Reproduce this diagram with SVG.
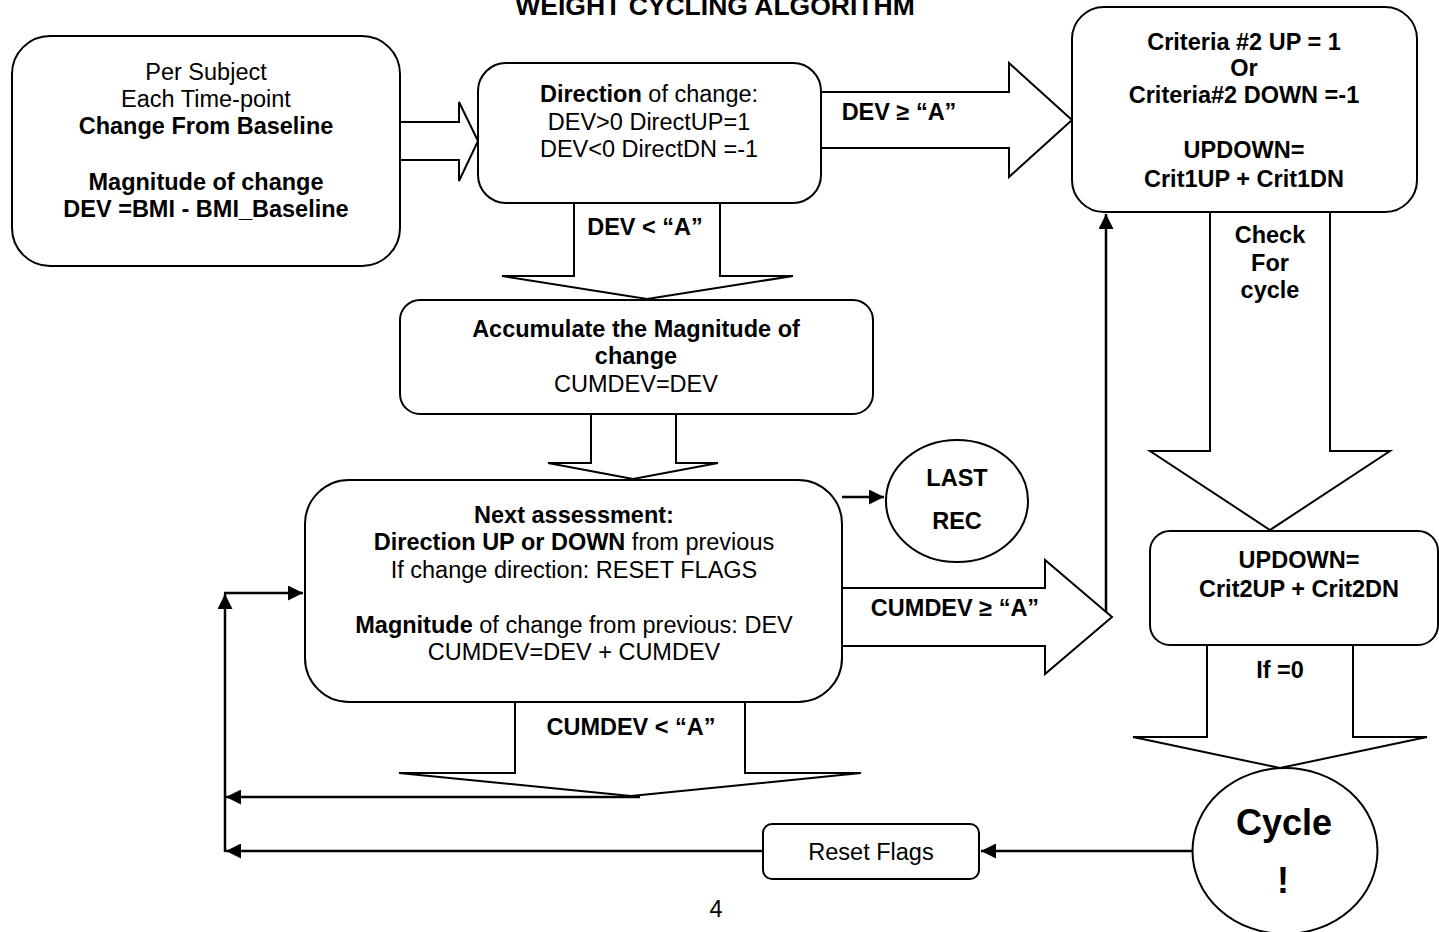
<svg xmlns="http://www.w3.org/2000/svg" width="1439" height="932" viewBox="0 0 1439 932">
<defs>
<style>
text{font-family:"Liberation Sans",Arial,sans-serif;font-size:23.5px;fill:#000;text-anchor:middle}
.b{font-weight:bold}
.title{font-size:26.5px}
.big{font-size:36px}
.box{fill:#fff;stroke:#000;stroke-width:2}
.blk{fill:#fff;stroke:#000;stroke-width:2;stroke-linejoin:miter}
.ln{fill:none;stroke:#000;stroke-width:2.5}
</style>
<marker id="ah" viewBox="0 0 10 10" refX="10" refY="5" markerWidth="6.5" markerHeight="6" markerUnits="strokeWidth" orient="auto">
<path d="M0,0 L10,5 L0,10 z" fill="#000"/>
</marker>
</defs>
<rect width="1439" height="932" fill="#fff"/>
<text class="b title" x="715" y="15">WEIGHT CYCLING ALGORITHM</text>

<g id="block-arrows">
<path class="blk" d="M400,122 H459 V102 L478,141 L459,181 V160 H400"/>
<path class="blk" d="M821,92 H1009 V63 L1072,120 L1009,177 V148 H821"/>
<path class="blk" d="M574,203 V276 H502 L647,299 L793,276 H720 V203"/>
<path class="blk" d="M591,414 V463 H548 L633,479 L718,463 H676 V414"/>
<path class="blk" d="M842,588 H1045 V560 L1112,617 L1045,674 V646 H842"/>
<path class="blk" d="M515,702 V773 H399 L631,796 L861,773 H745 V702"/>
<path class="blk" d="M1210,212 V451 H1150 L1270,530 L1390,451 H1330 V212"/>
<path class="blk" d="M1207,645 V737 H1133 L1280,768 L1427,737 H1353 V645"/>
<text class="b" x="899" y="120">DEV ≥ “A”</text>
<text class="b" x="645" y="235">DEV &lt; “A”</text>
<text class="b" x="955" y="616">CUMDEV ≥ “A”</text>
<text class="b" x="631" y="735">CUMDEV &lt; “A”</text>
<text class="b" x="1270" y="243">Check</text>
<text class="b" x="1270" y="271">For</text>
<text class="b" x="1270" y="298">cycle</text>
<text class="b" x="1280" y="678">If =0</text>
</g>

<g id="connectors">
<line class="ln" x1="842" y1="497" x2="884" y2="497" marker-end="url(#ah)"/>
<line class="ln" x1="640" y1="797" x2="226" y2="797" marker-end="url(#ah)"/>
<line class="ln" x1="763" y1="851" x2="226" y2="851" marker-end="url(#ah)"/>
<line class="ln" x1="225" y1="852" x2="225" y2="594" marker-end="url(#ah)"/>
<line class="ln" x1="224" y1="593" x2="303" y2="593" marker-end="url(#ah)"/>
<line class="ln" x1="1192" y1="851" x2="981" y2="851" marker-end="url(#ah)"/>
<line class="ln" x1="1106" y1="612" x2="1106" y2="214" marker-end="url(#ah)"/>
</g>

<g id="start">
<rect class="box" x="12" y="36" width="388" height="230" rx="38"/>
<text x="206" y="80">Per Subject</text>
<text x="206" y="107">Each Time-point</text>
<text class="b" x="206" y="134">Change From Baseline</text>
<text class="b" x="206" y="190">Magnitude of change</text>
<text class="b" x="206" y="217">DEV =BMI - BMI_Baseline</text>
</g>

<g id="direction">
<rect class="box" x="478" y="63" width="343" height="140" rx="28"/>
<text x="649" y="102"><tspan class="b">Direction</tspan> of change:</text>
<text x="649" y="130">DEV&gt;0 DirectUP=1</text>
<text x="649" y="157">DEV&lt;0 DirectDN =-1</text>
</g>

<g id="accumulate">
<rect class="box" x="400" y="300" width="473" height="114" rx="20"/>
<text class="b" x="636" y="337">Accumulate the Magnitude of</text>
<text class="b" x="636" y="364">change</text>
<text x="636" y="392">CUMDEV=DEV</text>
</g>

<g id="next">
<rect class="box" x="305" y="480" width="537" height="222" rx="44"/>
<text class="b" x="574" y="523">Next assessment:</text>
<text x="574" y="550"><tspan class="b">Direction UP or DOWN</tspan> from previous</text>
<text x="574" y="578">If change direction: RESET FLAGS</text>
<text x="574" y="633"><tspan class="b">Magnitude</tspan> of change from previous: DEV</text>
<text x="574" y="660">CUMDEV=DEV + CUMDEV</text>
</g>

<g id="lastrec">
<ellipse class="box" cx="957" cy="501" rx="71" ry="61"/>
<text class="b" x="957" y="486">LAST</text>
<text class="b" x="957" y="529">REC</text>
</g>

<g id="criteria">
<rect class="box" x="1072" y="7" width="345" height="205" rx="32"/>
<text class="b" x="1244" y="50">Criteria #2 UP = 1</text>
<text class="b" x="1244" y="76">Or</text>
<text class="b" x="1244" y="103">Criteria#2 DOWN =-1</text>
<text class="b" x="1244" y="158">UPDOWN=</text>
<text class="b" x="1244" y="187">Crit1UP + Crit1DN</text>
</g>

<g id="updown2">
<rect class="box" x="1150" y="531" width="288" height="114" rx="20"/>
<text class="b" x="1299" y="568">UPDOWN=</text>
<text class="b" x="1299" y="597">Crit2UP + Crit2DN</text>
</g>

<g id="cycle">
<ellipse class="box" cx="1285" cy="851" rx="92.5" ry="83"/>
<text class="b big" x="1284" y="835">Cycle</text>
<text class="b big" x="1283" y="893">!</text>
</g>

<g id="reset">
<rect class="box" x="763" y="824" width="216" height="55" rx="9"/>
<text x="871" y="860">Reset Flags</text>
</g>

<text x="716" y="917">4</text>
</svg>
